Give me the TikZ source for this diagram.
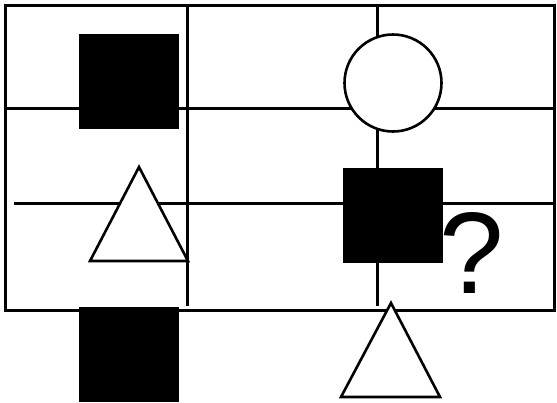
\documentclass[tikz,border=0pt]{standalone}
\usepackage{fontspec}
\setmainfont{Liberation Sans}
\begin{document}
\begin{tikzpicture}[x=1pt, y=-1pt,
  gridline/.style={draw=black, line width=3pt},
  blk/.style={fill=black, inner sep=0pt, minimum width=100pt, minimum height=95pt},
  ring/.style={circle, draw=black, fill=white, line width=2.6pt,
               inner sep=0pt, minimum size=97pt},
  tri/.style={draw=black, fill=white, line width=2.6pt, line join=miter},
  qmark/.style={inner sep=0pt, font=\fontsize{116}{116}\selectfont}
]
\useasboundingbox (0,0) rectangle (557,402);

% Grid
\draw[gridline] (5.5,5.5) rectangle (554.5,310.5);
\draw[gridline] (5.5,108.5) -- (554.5,108.5);
\draw[gridline] (14,203.5) -- (554.5,203.5);
\draw[gridline] (187.5,5.5) -- (187.5,306);
\draw[gridline] (377.5,5.5) -- (377.5,306);

% Figures
\node[blk]  (sq1) at (129,81.5) {};
\node[ring] (ci1) at (393,83) {};
\draw[tri] (139,167) coordinate (t1a) -- (90,261) coordinate (t1b)
  -- (188,261) coordinate (t1c) -- cycle;
\node[blk]  (sq2) at (393.3,215.8) {};
\node[qmark] (q) at (471.5,252.5) {?};
\node[blk]  (sq3) at (129,354.5) {};
\draw[tri] (391,303) coordinate (t2a) -- (341,397) coordinate (t2b)
  -- (440,397) coordinate (t2c) -- cycle;
\end{tikzpicture}
\end{document}
